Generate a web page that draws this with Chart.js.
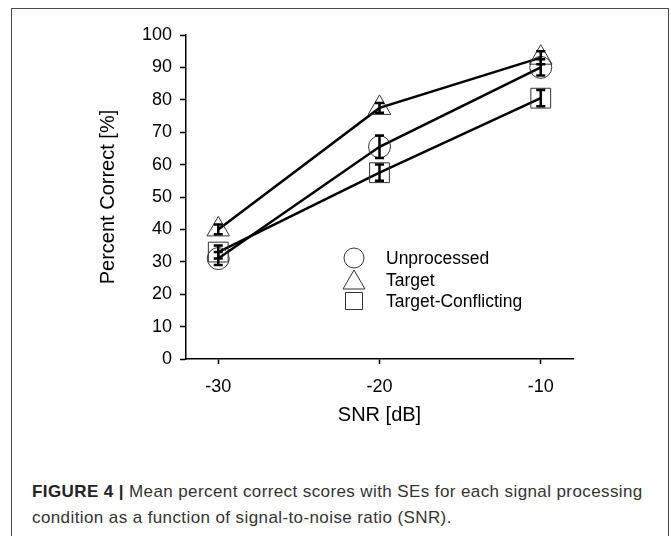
<!DOCTYPE html>
<html>
<head>
<meta charset="utf-8">
<script src="https://cdn.jsdelivr.net/npm/chart.js@4/dist/chart.umd.min.js"></script>
<style>
  html, body { margin: 0; padding: 0; background: #fff; }
  body { width: 671px; height: 536px; position: relative; overflow: hidden; font-family: "Liberation Sans", Arial, sans-serif; }
  .frame { position: absolute; left: 11px; top: 8px; width: 656px; height: 540px; border: 1.5px solid #4a4a4a; border-bottom: none; }
  #chartWrap { position: absolute; left: 0; top: 0; width: 671px; height: 440px; }
  .caption { position: absolute; left: 32px; top: 479px; width: 630px; font-size: 17px; letter-spacing: 0.4px; line-height: 26px; color: #333; }
  .caption b { color: #222; }
</style>
</head>
<body>
<div class="frame"></div>
<div id="chartWrap"><canvas id="snrChart" width="671" height="440"></canvas></div>
<div class="caption"><b>FIGURE 4 |</b> Mean percent correct scores with SEs for each signal processing condition as a function of signal-to-noise ratio (SNR).</div>

<script>
// values
const snr = [-30, -20, -10]
const xTicks = [-30, -20, -10]
const seriesNames = ["Unprocessed", "Target", "Target-Conflicting"]
const unprocessed = [31, 65.5, 90]
const unprocessedSE = [2, 3.5, 2.5]
const target = [40, 77.5, 93]
const targetSE = [1.5, 1.5, 2]
const conflicting = [33, 57.5, 80.5]
const conflictingSE = [2, 2.5, 2.5]

const FONT = "'Liberation Sans', Arial, sans-serif"

function toPoints(values) {
  return snr.map((x, i) => ({ x: x, y: values[i] }))
}

const errors = [unprocessedSE, targetSE, conflictingSE]
const markers = ["circle", "triangle", "rect"]
const markerRadius = [11, 13, 14]

const datasets = [unprocessed, target, conflicting].map((vals, i) => ({
  label: seriesNames[i],
  data: toPoints(vals),
  borderColor: "#000",
  borderWidth: 2.5,
  pointStyle: markers[i],
  pointRadius: markerRadius[i],
  pointBorderColor: "#333",
  pointBorderWidth: 1,
  pointBackgroundColor: "rgba(0,0,0,0)",
  fill: false,
  tension: 0,
}))

// SE bars drawn through the chart's scales
const errorBars = {
  id: "errorBars",
  afterDatasetsDraw(chart) {
    const ctx = chart.ctx
    const xs = chart.scales.x
    const ys = chart.scales.y
    ctx.save()
    ctx.strokeStyle = "#000"
    ctx.lineWidth = 2.5
    datasets.forEach((ds, i) => {
      ds.data.forEach((p, j) => {
        const x = xs.getPixelForValue(p.x)
        const top = ys.getPixelForValue(p.y + errors[i][j])
        const bot = ys.getPixelForValue(p.y - errors[i][j])
        ctx.beginPath()
        ctx.moveTo(x, top)
        ctx.lineTo(x, bot)
        ctx.moveTo(x - 4.5, top)
        ctx.lineTo(x + 4.5, top)
        ctx.moveTo(x - 4.5, bot)
        ctx.lineTo(x + 4.5, bot)
        ctx.stroke()
      })
    })
    ctx.restore()
  },
}

// legend sitting inside the plot
const innerLegend = {
  id: "innerLegend",
  afterDraw(chart) {
    const ctx = chart.ctx
    const sx = 354
    const tx = 386
    const rows = [258, 280, 301]
    ctx.save()
    ctx.strokeStyle = "#333"
    ctx.lineWidth = 1
    ctx.fillStyle = "#000"
    ctx.font = "17.5px " + FONT
    ctx.textBaseline = "middle"
    seriesNames.forEach((name, i) => {
      const y = rows[i]
      ctx.beginPath()
      if (markers[i] === "circle") {
        ctx.arc(sx, y, 10, 0, Math.PI * 2)
      } else if (markers[i] === "triangle") {
        ctx.moveTo(sx, y - 10)
        ctx.lineTo(sx + 11, y + 9)
        ctx.lineTo(sx - 11, y + 9)
        ctx.closePath()
      } else {
        ctx.rect(sx - 8.5, y - 8.5, 17, 17)
      }
      ctx.stroke()
      ctx.fillText(name, tx, y + 1)
    })
    ctx.restore()
  },
}

new Chart(document.getElementById("snrChart"), {
  type: "line",
  data: { datasets: datasets },
  plugins: [errorBars, innerLegend],
  options: {
    responsive: false,
    animation: false,
    layout: { padding: { left: 60, right: 98, top: 35, bottom: 0 } },
    plugins: {
      legend: { display: false },
      tooltip: { enabled: false },
    },
    scales: {
      x: {
        type: "linear",
        min: -32,
        max: -8,
        afterFit: (scale) => { scale.height = 81 },
        afterBuildTicks: (scale) => { scale.ticks = xTicks.map((v) => ({ value: v })) },
        grid: { drawOnChartArea: false, drawTicks: true, tickLength: 5, color: "#000", tickWidth: 1.5 },
        border: { color: "#000", width: 1.5 },
        ticks: { color: "#000", padding: 12, font: { family: FONT, size: 18 }, maxRotation: 0 },
        title: { display: true, text: "SNR [dB]", color: "#000", font: { family: FONT, size: 20 }, padding: { top: 0, bottom: 13 } },
      },
      y: {
        min: 0,
        max: 100,
        afterFit: (scale) => { scale.width = 126 },
        grid: { drawOnChartArea: false, drawTicks: true, tickLength: 6, color: "#000", tickWidth: 1.5 },
        border: { color: "#000", width: 1.5 },
        ticks: { stepSize: 10, color: "#000", padding: 8, font: { family: FONT, size: 18 } },
        title: { display: true, text: "Percent Correct [%]", color: "#000", font: { family: FONT, size: 20 }, padding: { top: 36, bottom: 0 } },
      },
    },
  },
})
</script>
</body>
</html>
